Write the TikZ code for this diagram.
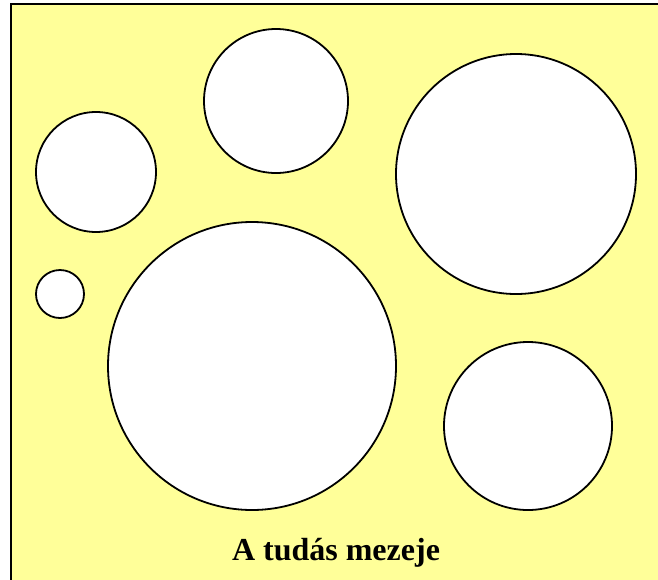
\documentclass[tikz,border=0pt]{standalone}
\usepackage{fontspec}
\setmainfont{Liberation Serif}
\definecolor{mezo}{HTML}{FFFF99}
\begin{document}
\begin{tikzpicture}[x=1pt, y=-1pt, every node/.style={font=\bfseries\fontsize{32}{38}\selectfont}]
  \clip (0,0) rectangle (658,579);
  \fill[white] (0,0) rectangle (658,579);
  \draw[line width=2.2pt, fill=mezo] (11,4) rectangle (662,584);
  % the circles
  \foreach \x/\y/\r in {96/172/60, 276/101/72, 516/174/120, 60/294/24, 252/366/144, 528/426/84}
    \draw[line width=1.8pt, fill=white] (\x,\y) circle (\r);
  \node (cim) at (336,553) {A tudás mezeje};
\end{tikzpicture}
\end{document}
